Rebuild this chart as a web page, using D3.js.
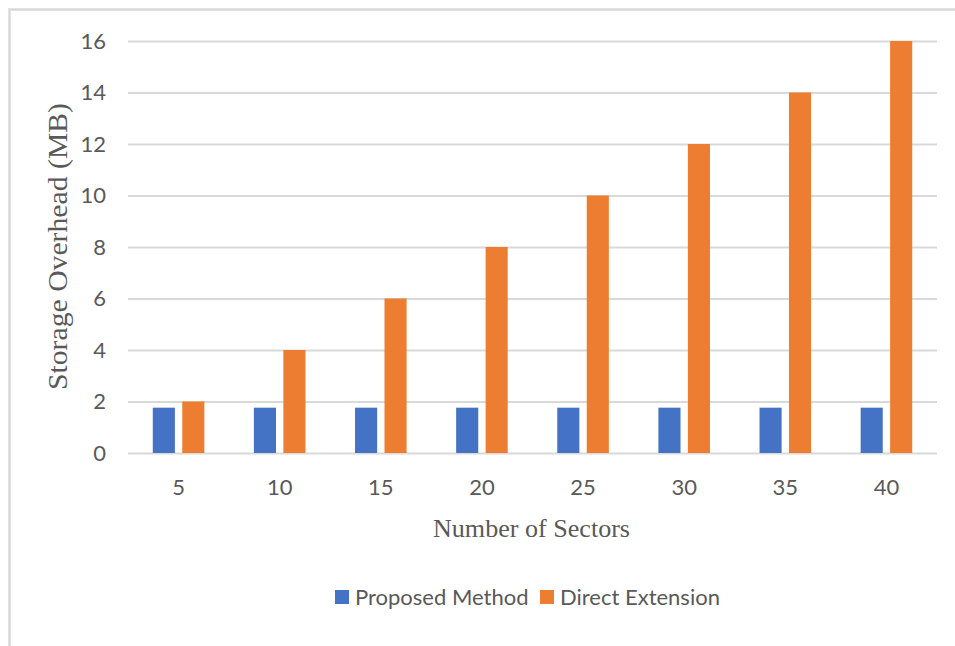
<!DOCTYPE html>
<html>
<head>
<meta charset="utf-8">
<script src="https://cdn.jsdelivr.net/npm/d3@7"></script>
<style>
  html, body { margin: 0; padding: 0; background: #fff; }
  svg { display: block; }
</style>
</head>
<body>
<svg id="chart" width="955" height="646"></svg>
<script>
const categories = ["5", "10", "15", "20", "25", "30", "35", "40"];
const seriesNames = ["Proposed Method", "Direct Extension"];
const proposedMethod = [1.76, 1.76, 1.76, 1.76, 1.76, 1.76, 1.76, 1.76];
const directExtension = [2, 4, 6, 8, 10, 12, 14, 16];
const yTicks = [0, 2, 4, 6, 8, 10, 12, 14, 16];
const colors = ["#4472C4", "#ED7D31"];

const svg = d3.select("#chart");
const W = 955, H = 646;
const pLeft = 128, pRight = 937, pTop = 41, pBottom = 453;

// outer border (right/bottom edges cut off)
svg.append("rect")
  .attr("x", 9.5).attr("y", 9.5)
  .attr("width", W + 20).attr("height", H + 20)
  .attr("fill", "#fff").attr("stroke", "#d9d9d9").attr("stroke-width", 2.5);

const x0 = d3.scaleBand().domain(categories).range([pLeft, pRight]).padding(0);
const groupW = x0.bandwidth() * 0.51;
const x1 = d3.scaleBand().domain(seriesNames).range([0, groupW]).paddingInner(0.25);
const y = d3.scaleLinear().domain([0, 16]).range([pBottom, pTop]);

const textColor = "#595959";
const numFont = "Lato, 'Open Sans', sans-serif";
const serif = "'Liberation Serif', 'Times New Roman', serif";

// y axis + gridlines
const yAxis = d3.axisLeft(y).tickValues(yTicks).tickSize(-(pRight - pLeft)).tickPadding(22);
const gy = svg.append("g").attr("transform", `translate(${pLeft},0)`).call(yAxis);
gy.select(".domain").remove();
gy.selectAll(".tick line").attr("stroke", "#d9d9d9").attr("stroke-width", 2);
gy.selectAll(".tick text")
  .attr("fill", textColor)
  .style("font-family", numFont)
  .style("font-size", "22px");

// bars
const data = categories.map((c, i) => ({ c, vals: [proposedMethod[i], directExtension[i]] }));
const groups = svg.append("g").selectAll("g").data(data).join("g")
  .attr("transform", d => `translate(${x0(d.c) + (x0.bandwidth() - groupW) / 2},0)`);
groups.selectAll("rect")
  .data(d => d.vals.map((v, k) => ({ s: seriesNames[k], v, k })))
  .join("rect")
  .attr("x", d => x1(d.s))
  .attr("y", d => y(d.v))
  .attr("width", x1.bandwidth())
  .attr("height", d => y(0) - y(d.v))
  .attr("fill", d => colors[d.k]);

// x axis labels
const xAxis = d3.axisBottom(x0).tickSize(0).tickPadding(26);
const gx = svg.append("g").attr("transform", `translate(0,${pBottom})`).call(xAxis);
gx.select(".domain").remove();
gx.selectAll(".tick text")
  .attr("fill", textColor)
  .style("font-family", numFont)
  .style("font-size", "22px");

// axis titles
svg.append("text")
  .attr("x", 531.5).attr("y", 537)
  .attr("text-anchor", "middle")
  .attr("fill", textColor)
  .attr("textLength", 197)
  .attr("lengthAdjust", "spacingAndGlyphs")
  .style("font-family", serif)
  .style("font-size", "25px")
  .text("Number of Sectors");

svg.append("text")
  .attr("transform", `translate(67,246.5) rotate(-90)`)
  .attr("text-anchor", "middle")
  .attr("fill", textColor)
  .attr("textLength", 287)
  .attr("lengthAdjust", "spacingAndGlyphs")
  .style("font-family", serif)
  .style("font-size", "27px")
  .text("Storage Overhead (MB)");

// legend
const legendItems = [
  { name: seriesNames[0], color: colors[0], sx: 335, tx: 355 },
  { name: seriesNames[1], color: colors[1], sx: 540, tx: 560 }
];
const lg = svg.append("g");
lg.selectAll("rect").data(legendItems).join("rect")
  .attr("x", d => d.sx).attr("y", 590).attr("width", 14).attr("height", 14)
  .attr("fill", d => d.color);
lg.selectAll("text").data(legendItems).join("text")
  .attr("x", d => d.tx).attr("y", 605)
  .attr("fill", textColor)
  .style("font-family", numFont)
  .style("font-size", "22px")
  .text(d => d.name);
</script>
</body>
</html>
